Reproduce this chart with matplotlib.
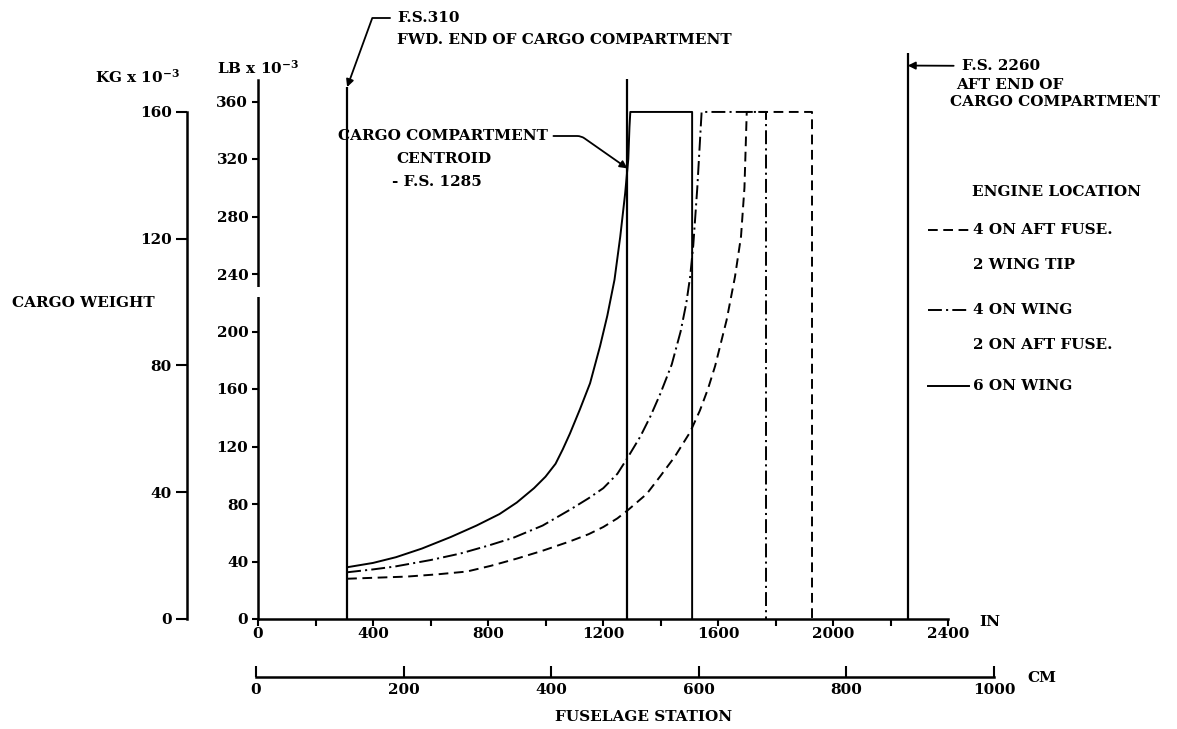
import numpy as np
import matplotlib
matplotlib.use("Agg")
import matplotlib.pyplot as plt
from matplotlib.lines import Line2D

plt.rcParams['font.family'] = 'DejaVu Serif'
plt.rcParams['font.weight'] = 'bold'
plt.rcParams['font.size'] = 11
plt.rcParams['mathtext.fontset'] = 'dejavuserif'
plt.rcParams['mathtext.default'] = 'bf'
plt.rcParams['lines.scale_dashes'] = False

W, H = 1177, 729
LB_PER_KG = 2.2046

# axes scales
lb_ticks = [0, 40, 80, 120, 160, 200, 240, 280, 320, 360]
kg_ticks = [0, 40, 80, 120, 160]
in_ticks = [0, 400, 800, 1200, 1600, 2000, 2400]
in_minor = [200, 600, 1000, 1400, 1800, 2200]
cm_ticks = [0, 200, 400, 600, 800, 1000]

# max cargo = 160 000 kg
cap_lb = 160 * LB_PER_KG

# cargo weight (lb x 1e-3) vs fuselage station (in)
six_wing_in = [310, 400, 480, 570, 670, 760, 840, 900, 960, 1000, 1035, 1060, 1085,
               1120, 1155, 1190, 1215, 1240, 1260, 1277, 1288, 1292, 1295]
six_wing_lb = [36, 39, 43, 49, 57, 65, 73, 81, 91, 99, 108, 118, 129,
               146, 164, 190, 211, 236, 266, 296, 320, 342, cap_lb]
six_wing_end = 1510

wing_aft_in = [310, 400, 476, 600, 703, 800, 888, 990, 1085, 1150, 1201, 1250, 1285,
               1330, 1365, 1400, 1439, 1470, 1490, 1503, 1514, 1528, 1543]
wing_aft_lb = [32.5, 34.5, 36.5, 41, 45.5, 51, 56.5, 65, 76, 84, 91, 101, 112,
               127, 141, 157, 177, 200, 220, 238, 260, 300, cap_lb]
wing_aft_end = 1767

aft_tip_in = [310, 420, 517, 620, 726, 810, 900, 990, 1085, 1150, 1201, 1250, 1288,
              1352, 1398, 1450, 1503, 1537, 1565, 1590, 1630, 1659, 1680, 1692, 1700]
aft_tip_lb = [28, 28.8, 29.5, 31, 33, 37, 42, 47.5, 54, 59, 64, 70, 76,
              87, 99, 113, 130, 145, 160, 176, 208, 238, 266, 300, cap_lb]
aft_tip_end = 1927

# reference stations: fwd end, centroid, aft end
stations = [310, 1285, 2260]
station_tops = [370, 376, 394]

DASHED = (0, (7, 4))
DASHDOT = (0, (10, 3, 1.5, 3))


def fp(x, y):
    # pixel position from top-left -> figure fraction
    return x / W, 1 - y / H


fig = plt.figure(figsize=(W / 100, H / 100), dpi=100)
fig.patch.set_facecolor('white')

# main axes: inches / lb
ax = fig.add_axes([258 / W, 1 - 619 / H, 690 / W, 575 / H])
ax.set_xlim(0, 2400)
ax.set_ylim(0, 400)
ax.patch.set_alpha(0)
for s in ['top', 'right']:
    ax.spines[s].set_visible(False)
ax.spines['left'].set_bounds(0, 375)
ax.spines['bottom'].set_bounds(0, 2400)
for s in ['left', 'bottom']:
    ax.spines[s].set_linewidth(1.8)
ax.set_xticks(in_ticks)
ax.set_xticks(in_minor, minor=True)
ax.set_yticks(lb_ticks)
ax.tick_params(axis='x', which='both', direction='out', length=5, width=1.5, pad=1)
ax.tick_params(axis='y', direction='out', length=4, width=1.5, pad=3)

# break in the lb axis
ax.plot([0, 0], [224, 231], color='white', lw=4, clip_on=False, zorder=5,
        solid_capstyle='butt')

# reference stations
ax.vlines(stations, 0, station_tops, color='black', lw=1.6)


def envelope(xs, ys, end):
    return list(xs) + [end, end], list(ys) + [cap_lb, 0]


x, y = envelope(six_wing_in, six_wing_lb, six_wing_end)
ax.plot(x, y, color='black', lw=1.4)
x, y = envelope(wing_aft_in, wing_aft_lb, wing_aft_end)
ax.plot(x, y, color='black', lw=1.4, linestyle=DASHDOT)
x, y = envelope(aft_tip_in, aft_tip_lb, aft_tip_end)
ax.plot(x, y, color='black', lw=1.4, linestyle=DASHED)

# kg axis
kax = fig.add_axes([187 / W, 1 - 619 / H, 0.0005, 575 / H])
kax.set_ylim(0, 400 / LB_PER_KG)
kax.set_xticks([])
for s in ['top', 'right', 'bottom']:
    kax.spines[s].set_visible(False)
kax.spines['left'].set_bounds(0, 160)
kax.spines['left'].set_linewidth(1.8)
kax.set_yticks(kg_ticks)
kax.tick_params(axis='y', direction='out', length=8, width=1.5, pad=3)

# cm axis
cax = fig.add_axes([256 / W, 1 - 677 / H, 738 / W, 0.0005])
cax.set_xlim(0, 1000)
cax.set_yticks([])
for s in ['top', 'right', 'left']:
    cax.spines[s].set_visible(False)
cax.spines['bottom'].set_linewidth(1.8)
cax.set_xticks(cm_ticks)
cax.tick_params(axis='x', direction='in', length=8, width=1.5, pad=4)

# axis titles
fig.text(*fp(95, 77), r'KG x 10$^{-3}$', ha='left', va='center')
fig.text(*fp(217, 68), r'LB x 10$^{-3}$', ha='left', va='center')
fig.text(*fp(12, 303), 'CARGO WEIGHT', ha='left', va='center')
fig.text(*fp(979, 622), 'IN', ha='left', va='center')
fig.text(*fp(1027, 678), 'CM', ha='left', va='center')
fig.text(*fp(644, 717), 'FUSELAGE STATION', ha='center', va='center')

# station notes
ax.annotate('F.S.310', xy=(stations[0], station_tops[0]), xycoords='data',
            xytext=fp(397, 18), textcoords='figure fraction', ha='left', va='center',
            arrowprops=dict(arrowstyle='-|>', color='black', lw=1.3, shrinkA=3, shrinkB=0,
                            connectionstyle='angle,angleA=0,angleB=70,rad=0'))
fig.text(*fp(397, 40), 'FWD. END OF CARGO COMPARTMENT', ha='left', va='center')

centroid_lb = np.interp(stations[1], six_wing_in, six_wing_lb)
ax.annotate('CARGO COMPARTMENT', xy=(stations[1], centroid_lb), xycoords='data',
            xytext=fp(338, 136), textcoords='figure fraction', ha='left', va='center',
            arrowprops=dict(arrowstyle='-|>', color='black', lw=1.3, shrinkA=2, shrinkB=0,
                            connectionstyle='angle,angleA=0,angleB=145,rad=4'))
fig.text(*fp(396, 159), 'CENTROID', ha='left', va='center')
fig.text(*fp(392, 182), '- F.S. 1285', ha='left', va='center')

ax.annotate('F.S. 2260', xy=(stations[2], 385), xycoords='data',
            xytext=fp(962, 66), textcoords='figure fraction', ha='left', va='center',
            arrowprops=dict(arrowstyle='-|>', color='black', lw=1.3, shrinkA=4, shrinkB=0))
fig.text(*fp(1010, 85), 'AFT END OF', ha='center', va='center')
fig.text(*fp(1055, 102), 'CARGO COMPARTMENT', ha='center', va='center')

# legend
fig.text(*fp(1057, 192), 'ENGINE LOCATION', ha='center', va='center')
legend_rows = [
    (DASHED, ['4 ON AFT FUSE.', '2 WING TIP'], 230),
    (DASHDOT, ['4 ON WING', '2 ON AFT FUSE.'], 310),
    ('-', ['6 ON WING'], 386),
]
for ls, lines, yp in legend_rows:
    x0, y0 = fp(928, yp)
    x1, _ = fp(969, yp)
    fig.add_artist(Line2D([x0, x1], [y0, y0], transform=fig.transFigure,
                          color='black', lw=1.4, linestyle=ls))
    for i, t in enumerate(lines):
        fig.text(*fp(973, yp + 35 * i), t, ha='left', va='center')

fig.savefig('out.png', dpi=100, facecolor='white')
